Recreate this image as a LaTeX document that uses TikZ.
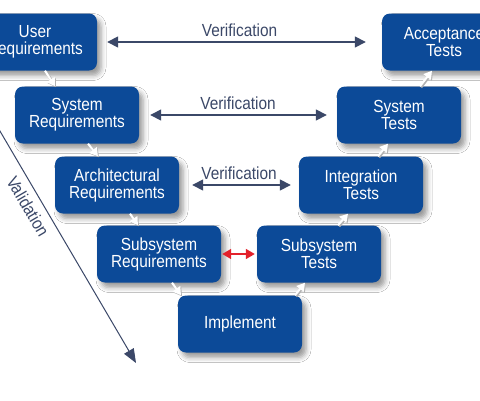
\documentclass[tikz,border=0pt]{standalone}
\usepackage{fontspec}
\setmainfont{Liberation Sans}[FakeStretch=0.88]
\usetikzlibrary{arrows.meta, positioning, shadows.blur}
\definecolor{vblue}{HTML}{0C4A98}
\definecolor{vgray}{HTML}{3B4868}
\definecolor{vred}{HTML}{E3212B}

\tikzset{
  stage/.style={fill=vblue, rounded corners=8pt, text=white, align=center,
    minimum width=124pt, minimum height=57pt, inner sep=0pt,
    font=\fontsize{17.5}{17}\selectfont,
    blur shadow={shadow xshift=4pt, shadow yshift=-5pt, shadow blur radius=5pt, shadow opacity=40}},
  verif/.style={above=5pt, inner sep=0pt, text=vgray, font=\fontsize{17.5}{17}\selectfont},
  stepline/.style={draw=white, line width=2pt, -{Triangle[length=8pt,width=9pt]},
    preaction={draw=black!30, line width=2.6pt, transform canvas={shift={(1pt,-1pt)}}}}
}

\begin{document}
\begin{tikzpicture}[x=1pt, y=-1pt]
\useasboundingbox[fill=white] (0,0) rectangle (480,400);

\begin{scope}[every node/.style={stage}]
    \node (ureq) at (35,42)   {User\\Requirements};
    \node (sreq) at (77,115)  {System\\Requirements};
    \node (areq) at (117,185) {Architectural\\Requirements};
    \node (subreq) at (159,254) {Subsystem\\Requirements};
    \node (impl) at (240,324) {Implement};
    \node (subtst) at (319,254) {Subsystem\\Tests};
    \node (itst) at (361,185) {Integration\\Tests};
    \node (stst) at (399,115) {System\\Tests};
    \node (atst) at (444,42)  {Acceptance\\Tests};
\end{scope}

\begin{scope}[>={Triangle[length=11pt, width=11pt]},
              every edge/.style={draw=vgray, line width=1.5pt}]
    \path (ureq) edge [<->, shorten <=10pt, shorten >=16pt] node [verif] {Verification} (atst);
    \path (sreq) edge [<->, shorten <=11pt, shorten >=10pt] node [verif] {Verification} (stst);
    \path (areq) edge [<->, shorten <=13pt, shorten >=8pt] node [verif] {Verification} (itst);
\end{scope}

\begin{scope}[>={Triangle[length=9pt, width=10pt]},
              every edge/.style={draw=vred, line width=1.5pt}]
    \path (subreq) edge [<->, shorten <=1pt, shorten >=2pt] (subtst);
\end{scope}

\coordinate (vtop) at (-3,126);
\coordinate (vbot) at (136,363);
\path (vtop) edge [draw=vgray, line width=1pt, -{Triangle[length=14pt, width=11pt]}]
    node [sloped, below=7pt, pos=0.31, inner sep=0pt, text=vgray, font=\fontsize{17.5}{17}\selectfont] {Validation} (vbot);

\begin{scope}
    \draw [stepline] ([xshift=10pt]ureq.south) -- ([xshift=-22pt]sreq.north);
    \draw [stepline] ([xshift=11pt]sreq.south) -- ([xshift=-19pt]areq.north);
    \draw [stepline] ([xshift=13pt]areq.south) -- ([xshift=-21pt]subreq.north);
    \draw [stepline] ([xshift=13pt]subreq.south) -- ([xshift=-59pt]impl.north);
    \draw [stepline] ([xshift=55pt]impl.north) -- ([xshift=-14pt]subtst.south);
    \draw [stepline] ([xshift=19pt]subtst.north) -- ([xshift=-13pt]itst.south);
    \draw [stepline] ([xshift=17pt]itst.north) -- ([xshift=-11pt]stst.south);
    \draw [stepline] ([xshift=21pt]stst.north) -- ([xshift=-12pt]atst.south);
\end{scope}

\end{tikzpicture}
\end{document}
